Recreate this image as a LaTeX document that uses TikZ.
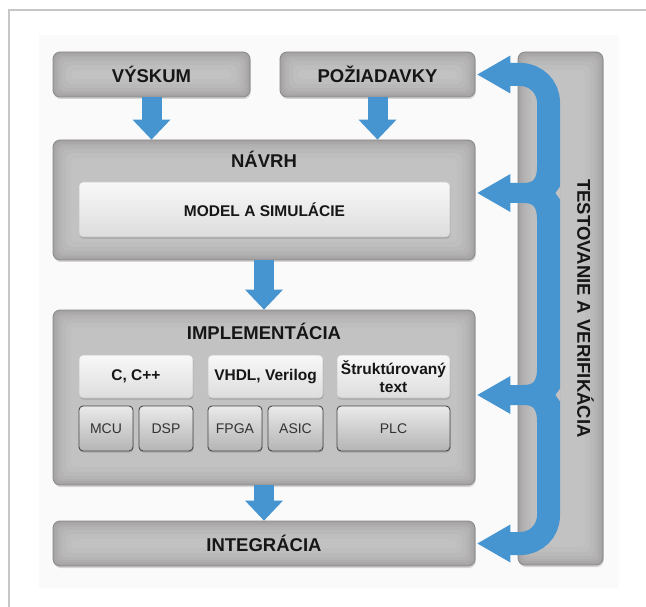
\documentclass[tikz,border=0pt]{standalone}
\usepackage{fontspec}
\setmainfont{Liberation Sans}
\usetikzlibrary{shadows,calc}
\definecolor{blu}{RGB}{70,148,208}
\definecolor{txt}{RGB}{22,22,22}
\definecolor{stxt}{RGB}{50,50,50}
\definecolor{obase}{RGB}{164,162,162}
\definecolor{oedge}{RGB}{138,136,136}
\definecolor{lt1}{RGB}{248,248,248}
\definecolor{lt2}{RGB}{221,221,221}
\definecolor{ltedge}{RGB}{198,198,198}
\definecolor{dk1}{RGB}{234,234,234}
\definecolor{dk2}{RGB}{180,180,180}
\definecolor{dkedge}{RGB}{72,72,72}
\definecolor{framec}{RGB}{198,198,198}
\definecolor{bgc}{RGB}{250,250,250}
\definecolor{barc}{RGB}{196,194,194}
\newcommand\headf{\fontsize{18.5}{20}\selectfont\bfseries}
\newcommand\subf{\fontsize{15.5}{18}\selectfont\bfseries}
\newcommand\smallf{\fontsize{14}{16}\selectfont}
\tikzset{
  outerbox/.style={rounded corners=7pt, draw=oedge, line width=0.8pt, fill=obase, inner sep=0pt,
    drop shadow={shadow xshift=0.8pt, shadow yshift=-2pt, opacity=0.3},
    path picture={
      \foreach \d in {2,4,6,9,13,18} {
        \fill[white, opacity=0.075, rounded corners=6pt]
          ($(path picture bounding box.north west)+(\d,\d)$) rectangle
          ($(path picture bounding box.south east)+(-\d,-\d)$);
      }},
    text=txt, font=\headf},
  lightbox/.style={rounded corners=4pt, draw=ltedge, line width=0.6pt, top color=lt1, bottom color=lt2,
    inner sep=0pt, drop shadow={shadow xshift=0.5pt, shadow yshift=-1.6pt, opacity=0.45},
    text=txt, font=\subf, align=center},
  darkbox/.style={rounded corners=4pt, draw=dkedge, line width=0.9pt, top color=dk1, bottom color=dk2,
    inner sep=0pt, drop shadow={shadow xshift=0.5pt, shadow yshift=-1.6pt, opacity=0.4},
    text=stxt, font=\smallf},
  headtext/.style={text=txt, font=\headf, inner sep=0pt},
  shaft/.style={draw=blu, line width=20pt},
  band/.style={draw=blu, line width=23pt, rounded corners=28pt}
}
\newcommand\dnarr[2]{%
  \draw[shaft] (#1.south) -- ($(#1.south |- #2.north)+(0,-19)$);
  \fill[blu] (#1.south |- #2.north) -- ++(-19pt,20pt) -- ++(38pt,0pt) -- cycle;}
\newcommand\rtarr[2]{%
  \fill[blu] ($(#2.east |- #1)+(2,0)$) -- ++(33pt,19pt) -- ++(0pt,-38pt) -- cycle;}
\begin{document}
\begin{tikzpicture}[x=1pt,y=-1pt]
\useasboundingbox (0,0) rectangle (646,607);
\fill[white] (0,0) rectangle (646,607);
\fill[bgc] (39,35) rectangle (619,588);
\draw[framec, line width=1.2pt] (9,607) -- (9,10) -- (646,10);

% right bar
\node[outerbox, minimum width=85pt, minimum height=513pt] (bar) at (560.5,308.5) {};
\node[headtext, rotate=-90] (bartxt) at (585.5,308.5) {TESTOVANIE A VERIFIKÁCIA};

% top boxes
\node[outerbox, minimum width=197pt, minimum height=45pt] (vyskum) at (151.5,74.5) {VÝSKUM};
\node[outerbox, minimum width=195pt, minimum height=45pt] (poz) at (377.5,74.5) {POŽIADAVKY};

% navrh
\node[outerbox, minimum width=422pt, minimum height=120pt] (navrh) at (264,200) {};
\node[headtext] (navrht) at ($(navrh.north)+(0,20)$) {NÁVRH};
\node[lightbox, minimum width=371pt, minimum height=55pt] (model) at (264.5,209.5) {MODEL A SIMULÁCIE};

% implementacia
\node[outerbox, minimum width=422pt, minimum height=175pt] (impl) at (264,397.5) {};
\node[headtext] (implt) at ($(impl.north)+(0,22)$) {IMPLEMENTÁCIA};
\node[lightbox, minimum width=114pt, minimum height=43pt] (c) at (136,376.5) {C, C++};
\node[lightbox, minimum width=115pt, minimum height=43pt] (vhdl) at (265.5,376.5) {VHDL, Verilog};
\node[lightbox, minimum width=113pt, minimum height=43pt] (str) at (393.5,376.5) {Štruktúrovaný\\text};
\node[darkbox, minimum width=54pt, minimum height=45pt] (mcu) at (106,428.5) {MCU};
\node[darkbox, minimum width=54pt, minimum height=45pt] (dsp) at (166,428.5) {DSP};
\node[darkbox, minimum width=54pt, minimum height=45pt] (fpga) at (235,428.5) {FPGA};
\node[darkbox, minimum width=55pt, minimum height=45pt] (asic) at (295.5,428.5) {ASIC};
\node[darkbox, minimum width=113pt, minimum height=45pt] (plc) at (393.5,428.5) {PLC};

% integracia
\node[outerbox, minimum width=422pt, minimum height=45pt] (integ) at (264,543.5) {INTEGRÁCIA};

% down arrows
\dnarr{vyskum}{navrh}
\dnarr{poz}{navrh}
\dnarr{navrh}{impl}
\dnarr{impl}{integ}

% blue feedback band
\coordinate (bx) at (548.5,300);
\coordinate (c1) at (537,193);
\coordinate (c2) at (537,395);
\draw[band] ($(poz.east)+(34,0)$) -- (bx |- poz.east) -- (bx |- integ.east) -- ($(integ.east)+(34,0)$);
\foreach \cc in {c1,c2} {
  \fill[blu] ($(\cc)+(0,-27)$) .. controls ($(\cc)+(0,-13)$) and ($(\cc)+(-4,-10)$) .. ($(\cc)+(-14,-10)$)
    -- ($(\cc)+(-34,-10)$) -- ($(\cc)+(-34,10)$) -- ($(\cc)+(-14,10)$)
    .. controls ($(\cc)+(-4,10)$) and ($(\cc)+(0,13)$) .. ($(\cc)+(0,27)$)
    -- ($(\cc)+(8,27)$) -- ($(\cc)+(8,-27)$) -- cycle;
  \fill[barc] ($(\cc)+(23.5,-7)$) -- ($(\cc)+(18.5,0)$) -- ($(\cc)+(23.5,7)$) -- cycle;
}
\rtarr{poz.east}{poz}
\rtarr{c1}{navrh}
\rtarr{c2}{impl}
\rtarr{integ.east}{integ}
\end{tikzpicture}
\end{document}
